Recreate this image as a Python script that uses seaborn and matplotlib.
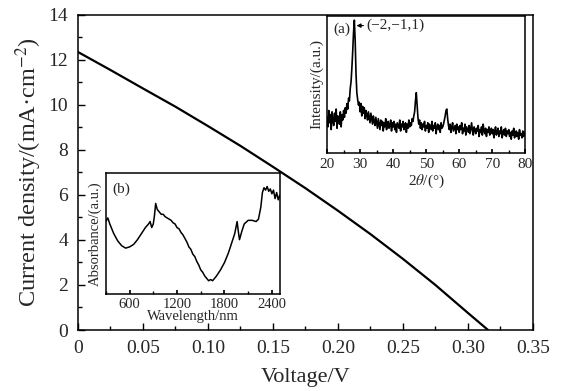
import matplotlib
matplotlib.use("Agg")
import matplotlib.pyplot as plt
from matplotlib.ticker import MultipleLocator
import seaborn as sns

# ─── Data ─────────────────────────────────────────────────────────────────────
voltage = [0, 0.025, 0.05, 0.075, 0.10, 0.125, 0.15, 0.175, 0.20, 0.225,
           0.25, 0.275, 0.30, 0.3155]
current = [12.35, 11.55, 10.73, 9.92, 9.06, 8.18, 7.25, 6.30, 5.30, 4.26,
           3.16, 2.00, 0.76, 0.0]

# XRD pattern, 2theta 20..80 in 0.25 deg steps (arbitrary intensity)
two_theta = [20 + 0.25 * i for i in range(241)]
xrd = [26, 19, 31, 22, 28, 17, 30, 24, 20, 29, 23, 32, 18, 27, 25, 21, 30, 19, 28, 24,
       31, 26, 33, 29, 36, 32, 40, 38, 47, 52, 62, 74, 88, 97, 82, 58, 44, 39, 35, 37,
       30, 36, 27, 34, 29, 33, 25, 31, 28, 24, 30, 26, 22, 29, 25, 21, 27, 23, 20, 26,
       22, 18, 25, 21, 17, 24, 20, 23, 16, 22, 19, 25, 17, 21, 23, 18, 20, 24, 16, 22,
       19, 23, 17, 21, 15, 22, 20, 18, 24, 16, 21, 19, 23, 17, 20, 22, 15, 21, 18, 24,
       19, 22, 20, 25, 23, 27, 30, 38, 44, 35, 26, 21, 24, 18, 22, 17, 21, 19, 23, 16,
       20, 18, 22, 15, 21, 19, 17, 23, 16, 20, 18, 22, 14, 19, 21, 17, 20, 15, 22, 18,
       19, 21, 24, 27, 31, 32, 25, 20, 17, 21, 15, 19, 22, 16, 18, 20, 14, 21, 17, 19,
       15, 20, 17, 22, 14, 18, 16, 21, 13, 19, 17, 15, 20, 14, 18, 22, 16, 13, 19, 17,
       14, 18, 16, 20, 12, 17, 15, 19, 13, 21, 16, 14, 18, 12, 17, 15, 19, 13, 16, 18,
       14, 17, 11, 16, 19, 13, 15, 18, 12, 16, 14, 19, 11, 15, 17, 13, 18, 12, 16, 14,
       17, 12, 15, 10, 16, 13, 18, 11, 14, 16, 12, 15, 10, 17, 13, 14, 11, 16, 12, 15,
       13]

# absorbance spectrum (arbitrary units)
wavelength = [300, 325, 350, 400, 450, 500, 550, 600, 650, 700,
              750, 800, 840, 860, 880, 900, 915, 930, 950, 975,
              1000, 1025, 1050, 1075, 1100, 1125, 1150, 1175, 1200, 1225,
              1250, 1275, 1300, 1325, 1350, 1375, 1400, 1425, 1450, 1475,
              1500, 1525, 1550, 1575, 1600, 1625, 1650, 1675, 1700, 1750,
              1800, 1850, 1880, 1900, 1930, 1960, 1975, 1990, 2020, 2050,
              2100, 2150, 2200, 2230, 2260, 2280, 2300, 2320, 2340, 2360,
              2380, 2400, 2420, 2440, 2460, 2480, 2500]
absorb = [60, 63, 58, 50, 44, 40, 38, 39, 41, 45,
          50, 55, 58, 60, 55, 58, 65, 75, 70, 68,
          66, 66, 64, 63, 62, 61, 59, 58, 55, 54,
          51, 49, 46, 43, 39, 37, 33, 31, 27, 24,
          20, 18, 15, 13, 11, 12, 11, 13, 15, 20,
          26, 34, 40, 44, 50, 60, 52, 45, 52, 58,
          61, 61, 60, 62, 72, 84, 88, 86, 89, 85,
          87, 83, 86, 79, 84, 78, 82]

# ─── Style ────────────────────────────────────────────────────────────────────
sns.set_theme(style="ticks")
plt.rcParams["font.family"] = ["Liberation Serif", "DejaVu Serif"]
plt.rcParams["mathtext.fontset"] = "stix"
plt.rcParams["axes.linewidth"] = 1.1
LINE = "black"

fig = plt.figure(figsize=(5.63, 3.91), dpi=100)

# ─── Main J-V curve ───────────────────────────────────────────────────────────
ax = fig.add_axes([0.1385, 0.156, 0.808, 0.806])
sns.lineplot(x=voltage, y=current, ax=ax, color=LINE, linewidth=1.6,
             estimator=None, sort=False)
ax.set_xlim(0, 0.35)
ax.set_ylim(0, 14)
ax.xaxis.set_minor_locator(MultipleLocator(0.025))
ax.yaxis.set_major_locator(MultipleLocator(2))
ax.yaxis.set_minor_locator(MultipleLocator(1))
ax.set_xticks([0, 0.05, 0.10, 0.15, 0.20, 0.25, 0.30, 0.35])
ax.set_xticklabels(["0", "0.05", "0.10", "0.15", "0.20", "0.25", "0.30", "0.35"])
ax.tick_params(which="both", direction="in", top=False, right=False,
               labelsize=14, color=LINE)
ax.tick_params(which="major", length=5, width=1, pad=7)
ax.tick_params(which="minor", length=3, width=1)
ax.set_xlabel("Voltage/V", fontsize=16, labelpad=8)
ax.set_ylabel("Current density/(mA·cm$^{-2}$)", fontsize=17.5, labelpad=3)
for s in ax.spines.values():
    s.set_color(LINE)

# ─── Inset (a): XRD ───────────────────────────────────────────────────────────
axa = fig.add_axes([0.581, 0.609, 0.352, 0.350])
sns.lineplot(x=two_theta, y=xrd, ax=axa, color=LINE, linewidth=1.2,
             estimator=None)
axa.set_xlim(20, 80)
axa.set_ylim(0, 100)
axa.xaxis.set_major_locator(MultipleLocator(10))
axa.xaxis.set_minor_locator(MultipleLocator(5))
axa.set_yticks([])
axa.tick_params(which="both", direction="in", labelsize=11, pad=4, color=LINE)
axa.tick_params(which="major", length=3)
axa.tick_params(which="minor", length=2)
axa.set_xlabel("2$\\theta$/(°)", fontsize=11, labelpad=1)
axa.set_ylabel("Intensity/(a.u.)", fontsize=11, labelpad=3)
axa.text(0.03, 0.95, "(a)", transform=axa.transAxes, fontsize=11,
         ha="left", va="top")
axa.annotate("(−2,−1,1)", xy=(28.9, 93), xytext=(32.0, 93),
             fontsize=11, ha="left", va="center",
             arrowprops=dict(arrowstyle="-|>", color=LINE, lw=0.8,
                             mutation_scale=6, shrinkA=0, shrinkB=0))
for s in axa.spines.values():
    s.set_color(LINE)

# ─── Inset (b): absorbance ────────────────────────────────────────────────────
axb = fig.add_axes([0.188, 0.248, 0.309, 0.309])
sns.lineplot(x=wavelength, y=absorb, ax=axb, color=LINE, linewidth=1.1,
             estimator=None)
axb.set_xlim(300, 2500)
axb.set_ylim(0, 100)
axb.xaxis.set_minor_locator(MultipleLocator(300))
axb.set_xticks([600, 1200, 1800, 2400])
axb.set_yticks([])
axb.tick_params(which="both", direction="in", labelsize=10.5, pad=3, color=LINE)
axb.tick_params(which="major", length=3)
axb.tick_params(which="minor", length=2)
axb.set_xlabel("Wavelength/nm", fontsize=10.5, labelpad=-1)
axb.set_ylabel("Absorbance/(a.u.)", fontsize=10.5, labelpad=3)
axb.text(0.04, 0.92, "(b)", transform=axb.transAxes, fontsize=11,
         ha="left", va="top")
for s in axb.spines.values():
    s.set_color(LINE)

fig.savefig("out.png", dpi=100)
